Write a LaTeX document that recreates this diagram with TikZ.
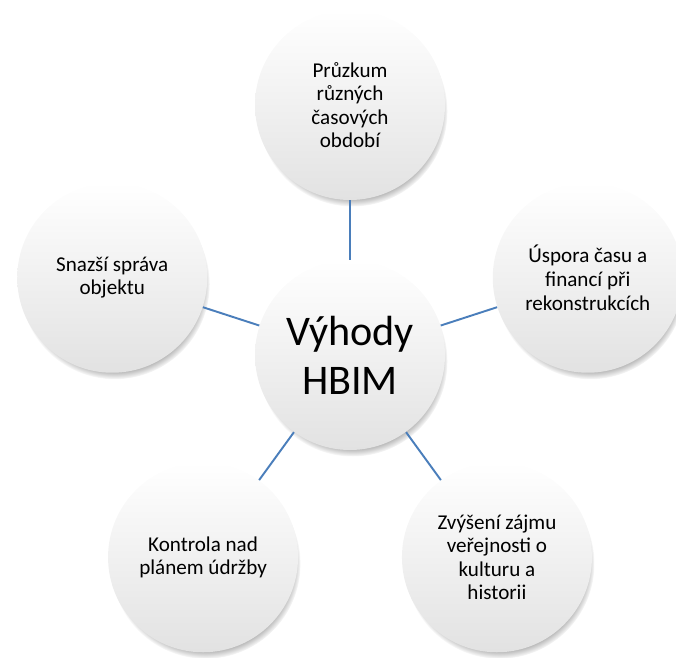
\documentclass[tikz,border=0pt]{standalone}
\usepackage{fontspec}
\setmainfont{Carlito}
\usepackage{tikz}
\usetikzlibrary{shadows}
\definecolor{Steel}{HTML}{4A7EBB}
\definecolor{Fog}{HTML}{E2E2E2}

\begin{document}
\begin{tikzpicture}[
  topic/.style={circle,minimum size=3.8cm,inner sep=0pt,align=center,
    top color=white,middle color=white,bottom color=Fog,
    circular drop shadow={shadow xshift=0.5mm,shadow yshift=-1.3mm,shadow scale=1.0},
    font=\fontsize{12}{13.4}\selectfont},
  hub/.style={topic,font=\fontsize{24}{28}\selectfont},
  link/.style={draw=Steel,line width=1.1pt}
]
\useasboundingbox (-7.0,-6.04) rectangle (6.52,7.1);
\node[hub] (hbim) at (0,0) {Výhody\\HBIM};
\node[topic] (pruzkum) at (90:5) {Průzkum\\různých\\časových\\období};
\node[topic] (uspora) at (18:5) {Úspora času a\\financí při\\rekonstrukcích};
\node[topic] (zajem) at (306:5) {Zvýšení zájmu\\veřejnosti o\\kulturu a\\historii};
\node[topic] (kontrola) at (234:5) {Kontrola nad\\plánem údržby};
\node[topic] (sprava) at (162:5) {Snazší správa\\objektu};
\draw[link] (hbim) -- (pruzkum);
\draw[link] (hbim) -- (uspora);
\draw[link] (hbim) -- (zajem);
\draw[link] (hbim) -- (kontrola);
\draw[link] (hbim) -- (sprava);
\end{tikzpicture}
\end{document}
